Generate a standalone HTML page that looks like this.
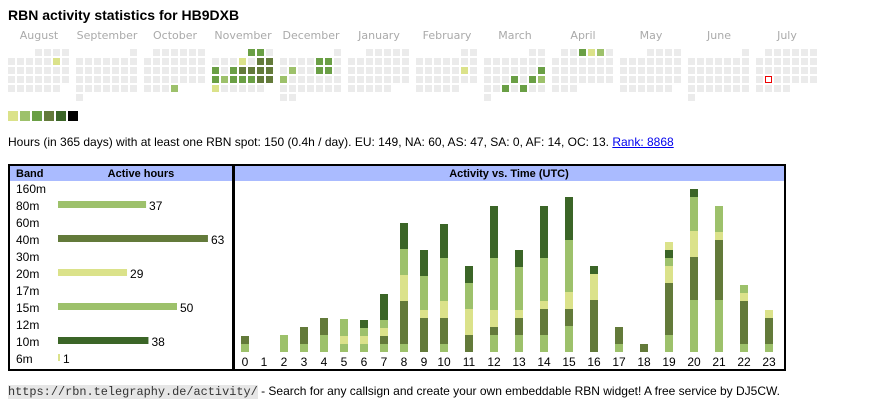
<!DOCTYPE html>
<html><head><meta charset="utf-8">
<style>
body{margin:0;width:870px;height:407px;background:#fff;font-family:"Liberation Sans",Arial,sans-serif;position:relative;overflow:hidden}
.a{position:absolute;white-space:nowrap}
</style></head><body>
<div class="a" style="left:8px;top:7px;font-size:14px;font-weight:bold">RBN activity statistics for HB9DXB</div>
<svg class="a" style="left:0;top:0" width="870" height="130" id="hm"></svg>
<div class="a" style="left:8px;top:135px;font-size:12px">Hours (in 365 days) with at least one RBN spot: 150 (0.4h / day). EU: 149, NA: 60, AS: 47, SA: 0, AF: 14, OC: 13. <span style="color:#00e;text-decoration:underline">Rank: 8868</span></div>
<svg class="a" style="left:0;top:160px" width="870" height="215" id="ch"></svg>
<div class="a" style="left:8px;top:384px;font-size:12px"><span style="font-family:'Liberation Mono',monospace;font-size:11.9px;background:#e6e6e6;color:#333">https://rbn.telegraphy.de/activity/</span> - Search for any callsign and create your own embeddable RBN widget! A free service by DJ5CW.</div>
<script>
var C=['#ebebeb','#dbe28a','#9dc16b','#6a9f45','#637a3a','#3b6527','#000'];
var ns='http://www.w3.org/2000/svg';
function el(p,t,a,txt){var e=document.createElementNS(ns,t);for(var k in a)e.setAttribute(k,a[k]);if(txt!=null)e.textContent=txt;p.appendChild(e);return e;}
var hm=document.getElementById('hm');
var names=['August','September','October','November','December','January','February','March','April','May','June','July'];
var starts=[3,6,1,4,6,2,5,5,1,3,6,1];var days=[31,30,31,30,31,31,28,31,30,31,30,31];
var col={0:{'1,5':1},2:{'4,3':2},3:{'0,4':3,'0,5':3,'1,3':1,'1,5':4,'1,6':4,'2,0':3,'2,2':3,'2,3':4,'2,4':4,'2,5':4,'2,6':4,'3,0':3,'3,1':2,'3,2':3,'3,3':3,'3,4':3,'3,5':4,'3,6':4,'4,0':1},
4:{'1,4':3,'1,5':3,'2,1':2,'2,4':3,'2,5':3,'3,0':2},6:{'2,5':1},7:{'2,6':3,'3,3':3,'3,5':3,'3,6':2,'4,2':3,'4,4':3},8:{'0,3':3,'0,4':1,'0,5':2}};
for(var m=0;m<12;m++){var x0=8+68*m;
el(hm,'text',{x:x0+31,y:39,'text-anchor':'middle','font-size':'11','fill':'#aaa','font-family':'DejaVu Sans,sans-serif'},names[m]);
for(var d=0;d<days[m];d++){var p=d+starts[m],r=Math.floor(p/7),c=p%7;var ci=(col[m]||{})[r+','+c]||0;
if(m==11&&r==3&&c==1){el(hm,'rect',{x:x0+9*c+0.5,y:49+9*r+0.5,width:6,height:6,fill:'#fff',stroke:'#e00','stroke-width':1});continue;}
el(hm,'rect',{x:x0+9*c,y:49+9*r,width:7,height:7,fill:C[ci]});}}
for(var i=1;i<=6;i++)el(hm,'rect',{x:8+12*(i-1),y:111,width:10,height:10,fill:C[i]});
var ch=document.getElementById('ch');
el(ch,'rect',{x:9,y:5,width:224,height:205,fill:'#fff',stroke:'#000','stroke-width':2});
el(ch,'rect',{x:10,y:6,width:222,height:15,fill:'#aabbff'});
el(ch,'text',{x:16,y:17,'font-size':'11','font-weight':'bold'},'Band');
el(ch,'text',{x:141,y:17,'font-size':'11','font-weight':'bold','text-anchor':'middle'},'Active hours');
var bands=[['160m',0,0],['80m',37,2],['60m',0,0],['40m',63,4],['30m',0,0],['20m',29,1],['17m',0,0],['15m',50,2],['12m',0,0],['10m',38,5],['6m',1,1]];
bands.forEach(function(b,i){var y=33+17*i;el(ch,'text',{x:16,y:y,'font-size':'12'},b[0]);
if(b[1]){var w=b[1]*2.38;if(b[1]==1)w=2;el(ch,'rect',{x:58,y:y-9,width:w,height:7,fill:C[b[2]]});el(ch,'text',{x:58+w+3,y:y,'font-size':'12'},b[1]);}});
el(ch,'rect',{x:234,y:5,width:551,height:205,fill:'#fff',stroke:'#000','stroke-width':2});
el(ch,'rect',{x:235,y:6,width:549,height:15,fill:'#aabbff'});
el(ch,'text',{x:509,y:17,'font-size':'11','font-weight':'bold','text-anchor':'middle'},'Activity vs. Time (UTC)');
var xs=[241,260,280,300,320,340,360,380,400,420,440,465,490,515,540,565,590,615,640,665,690,715,740,765];
var S=[[[2,537,561],[4,513,537]],[],[[2,510,561]],[[2,537,561],[4,486,537]],[[2,510,561],[4,459,510]],
[[2,537,561],[1,513,537],[2,462,513]],[[2,537,561],[1,513,537],[2,489,513],[5,465,489]],
[[2,537,561],[4,513,537],[1,489,513],[2,465,489],[5,387,465]],
[[2,537,561],[4,408,537],[1,330,408],[2,252,330],[5,174,252]],
[[4,459,561],[1,435,459],[2,333,435],[5,255,333]],
[[2,537,561],[4,459,537],[1,408,459],[2,279,408],[5,177,279]],
[[4,510,561],[1,432,510],[2,354,432],[5,303,354]],
[[2,510,561],[4,486,510],[1,435,486],[2,279,435],[5,123,279]],
[[2,510,561],[4,459,510],[1,435,459],[2,306,435],[5,255,306]],
[[2,510,561],[4,432,510],[1,408,432],[2,279,408],[5,123,279]],
[[2,483,561],[4,432,483],[1,381,432],[2,225,381],[5,96,225]],
[[4,405,561],[1,327,405],[5,303,327]],[[2,537,561],[4,486,537]],[[4,537,561]],
[[2,510,561],[4,354,510],[1,303,354],[2,279,303],[5,255,279],[1,231,255]],
[[2,405,561],[4,276,405],[1,198,276],[2,96,198],[5,72,96]],
[[2,405,561],[4,225,405],[1,201,225],[2,123,201]],
[[2,537,561],[4,408,537],[1,384,408],[2,360,384]],[[2,537,561],[4,459,537],[1,435,459]]];
S.forEach(function(segs,h){segs.forEach(function(s){var y1=s[1]/3+5,y2=s[2]/3+5;el(ch,'rect',{x:xs[h],y:y1,width:8,height:y2-y1,fill:C[s[0]]});});
el(ch,'text',{x:xs[h]+4,y:206,'font-size':'12','text-anchor':'middle'},h);});
</script>
</body></html>
